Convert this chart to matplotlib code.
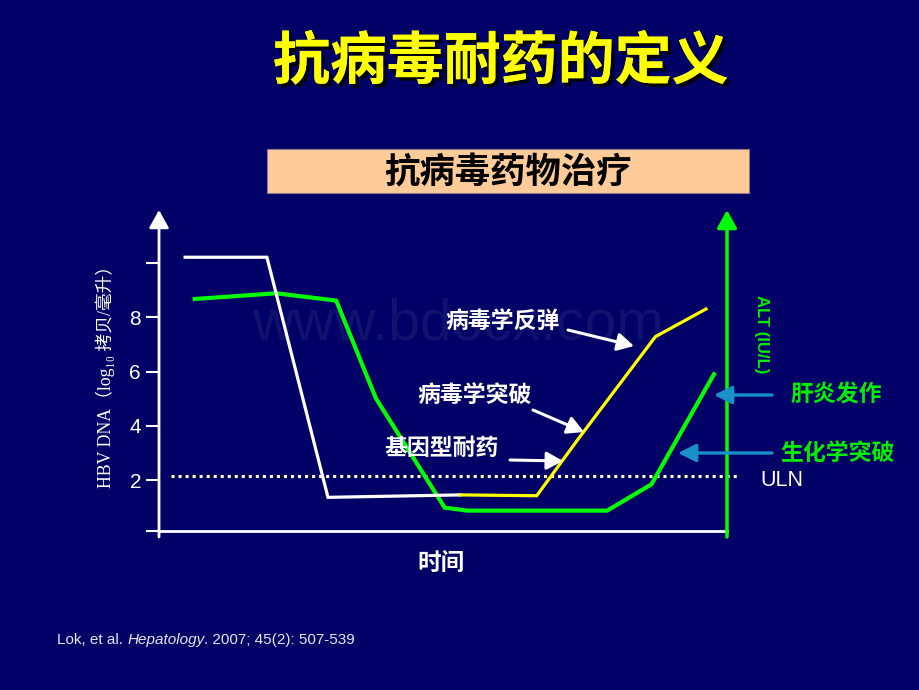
import matplotlib
matplotlib.use("Agg")
import matplotlib.pyplot as plt
import matplotlib.patheffects as pe
from matplotlib.patches import Rectangle, FancyArrowPatch

# ---------------- data ----------------
wild_x = [4.6, 19.0, 29.75, 53.0]          # white: HBV DNA, wild type
wild_y = [10.22, 10.22, 1.36, 1.45]
resist_x = [53.0, 66.5, 73.9, 87.4, 96.3]  # yellow: resistant virus
resist_y = [1.45, 1.42, 3.54, 7.29, 8.31]
alt_x = [6.3, 20.65, 31.2, 38.2, 50.3, 54.3, 78.9, 86.7, 97.7]  # green: ALT
alt_y = [8.68, 8.89, 8.62, 5.01, 0.98, 0.87, 0.87, 1.84, 5.90]
uln_level = 2.15
ytick_vals = [2, 4, 6, 8, 10]
ytick_labels = ["2", "4", "6", "8", ""]

title = "抗病毒耐药的定义"
banner = "抗病毒药物治疗"
ann_labels = ["病毒学反弹", "病毒学突破", "基因型耐药"]
right_labels = ["肝炎发作", "生化学突破"]
xlabel = "时间"
ylabel = "HBV DNA（log₁₀ 拷贝/毫升）"
alt_label = "ALT (IU/L)"

BG = "#000066"
GREEN = "#00ee00"
CJK = ["Noto Sans CJK SC", "DejaVu Sans"]
W, H = 920, 690

fig = plt.figure(figsize=(9.2, 6.9), dpi=100, facecolor=BG)

def fx(px):
    return px / W

def fy(py):
    return 1 - py / H

def fp(px, py):
    return (px, H - py)

# ---------------- axes ----------------
ylo = (534.2 - 531) / 27.1
yhi = (534.2 - 212) / 27.1
ax = fig.add_axes([fx(159), fy(531), (727 - 159) / W, (531 - 212) / H])
ax.set_facecolor(BG)
ax.set_xlim(0, 100)
ax.set_ylim(ylo, yhi)
for s in ["top", "right", "left"]:
    ax.spines[s].set_visible(False)
ax.spines["bottom"].set_color("white")
ax.spines["bottom"].set_linewidth(2)
ax.set_xticks([])
ax.set_yticks([ylo] + ytick_vals)
ax.set_yticklabels([""] + ytick_labels)
ax.tick_params(axis="y", colors="white", length=9.4, width=1.5, pad=3.5,
               labelsize=15, direction="out")
for t in ax.get_yticklabels():
    t.set_fontfamily("Liberation Sans")

# faint watermark, behind the curves
ax.text(fx(458), fy(325), "www.bdocx.com", color="#111170", fontsize=41,
        family="Liberation Sans", ha="center", va="center", zorder=1,
        transform=fig.transFigure, clip_on=False)

# curves
ax.plot(alt_x, alt_y, color="#00ff00", lw=3.0, solid_joinstyle="miter", zorder=3)
ax.plot(wild_x, wild_y, color="white", lw=2.3, solid_joinstyle="miter", zorder=4)
ax.plot(resist_x, resist_y, color="#ffff00", lw=2.3, solid_joinstyle="miter", zorder=4)
ax.plot([2.2, 102.3], [uln_level, uln_level], color="#ffffcc", lw=2.2,
        linestyle=(0, (1, 1.3)), clip_on=False, zorder=2)

# axis arrows
fig.add_artist(FancyArrowPatch(
    posA=fp(159, 537), posB=fp(159, 210), transform=None,
    arrowstyle="-|>,head_length=0.45,head_width=0.25", mutation_scale=24,
    color="white", lw=2, shrinkA=0, shrinkB=0))
fig.add_artist(FancyArrowPatch(
    posA=fp(727, 537), posB=fp(727, 210), transform=None,
    arrowstyle="-|>,head_length=0.45,head_width=0.25", mutation_scale=24,
    color="#00ff00", lw=2.5, shrinkA=0, shrinkB=0))

# ---------------- texts ----------------
fig.text(fx(501), fy(62), title, color="#ffff00", fontsize=41, fontweight="bold",
         family=CJK, ha="center", va="center",
         path_effects=[pe.withSimplePatchShadow(offset=(2.5, -2.5), shadow_rgbFace="black", alpha=0.9),
                       pe.Normal()])

fig.add_artist(Rectangle((fx(267), fy(193)), (749 - 267) / W, (193 - 149) / H,
                         transform=fig.transFigure, facecolor="#ffcc99",
                         edgecolor="#8a7a8a", lw=0.8))
fig.text(fx(508), fy(173), banner, color="black", fontsize=25.5, fontweight="bold",
         family=CJK, ha="center", va="center")

fig.text(fx(441.5), fy(563), xlabel, color="white", fontsize=17, fontweight="bold",
         family=CJK, ha="center", va="center")
fig.text(fx(105), fy(372), ylabel, color="white", fontsize=12.8, rotation=90,
         family=["Liberation Serif", "Noto Sans CJK SC", "DejaVu Sans"],
         ha="center", va="center")
fig.text(fx(761), fy(334), alt_label, color=GREEN, fontsize=12, fontweight="bold",
         rotation=-90, family="Liberation Sans", ha="center", va="center")

ann_pos = [(502.5, 322), (474.5, 395), (441.5, 448)]
ann_arrows = [((568, 330), (634, 346)), ((533, 410), (584, 432)), ((510, 460), (563, 461))]
for lab, (px, py), (a, b) in zip(ann_labels, ann_pos, ann_arrows):
    fig.text(fx(px), fy(py), lab, color="white", fontsize=16.5, fontweight="bold",
             family=CJK, ha="center", va="center", zorder=5)
    fig.add_artist(FancyArrowPatch(
        posA=fp(*a), posB=fp(*b), transform=None,
        arrowstyle="-|>,head_length=0.55,head_width=0.3", mutation_scale=18,
        color="white", lw=2.2, shrinkA=0, shrinkB=0))

rl_pos = [(836, 395), (838, 453)]
rl_arrows = [((772, 395), (714, 395)), ((772, 453), (678, 453))]
for lab, (px, py), (a, b) in zip(right_labels, rl_pos, rl_arrows):
    fig.text(fx(px), fy(py), lab, color=GREEN, fontsize=16.5, fontweight="bold",
             family=CJK, ha="center", va="center")
    fig.add_artist(FancyArrowPatch(
        posA=fp(*a), posB=fp(*b), transform=None,
        arrowstyle="-|>,head_length=0.6,head_width=0.3", mutation_scale=18,
        color="#1a90c8", lw=2.4, shrinkA=0, shrinkB=0))

fig.text(fx(781.5), fy(480), "ULN", color="white", fontsize=15.5,
         family="Liberation Sans", ha="center", va="center")

# reference line with italic journal name
fig.canvas.draw()
renderer = fig.canvas.get_renderer()
parts = [("Lok, et al. ", "normal"), ("Hepatology", "italic"), (". 2007; 45(2): 507-539", "normal")]
xpos = 57
for txt, style in parts:
    t = fig.text(xpos / W, fy(640), txt, color="#e6e6f0", fontsize=11.0, style=style,
                 family="Liberation Sans", ha="left", va="center")
    bb = t.get_window_extent(renderer=renderer)
    xpos += bb.width

fig.savefig("out.png", dpi=100, facecolor=BG)
